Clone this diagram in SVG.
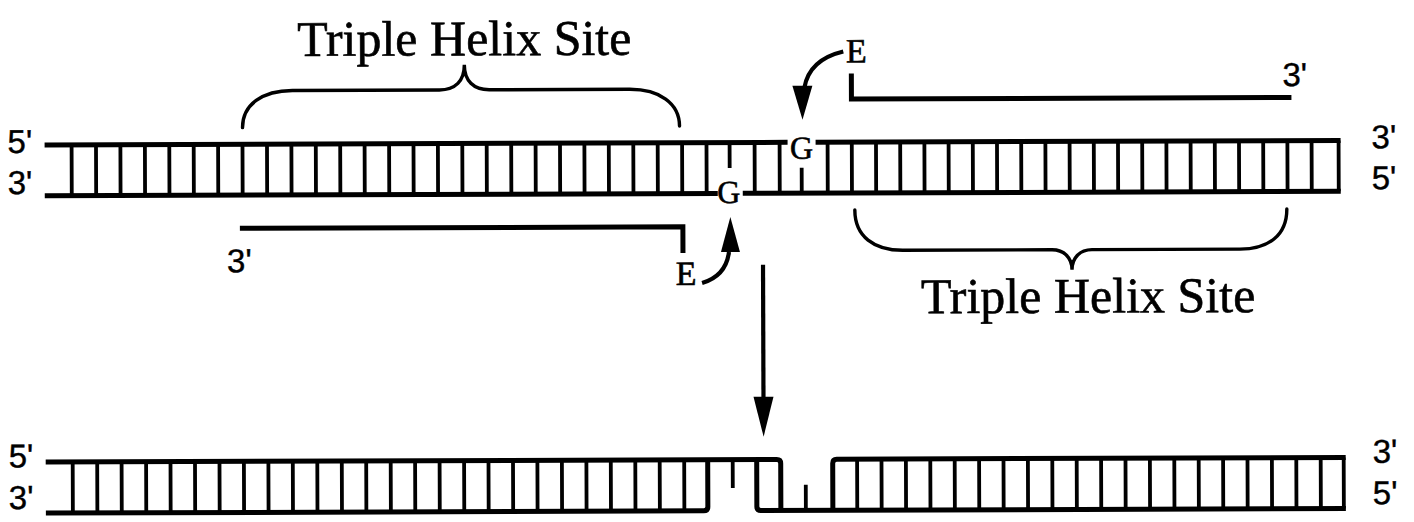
<svg xmlns="http://www.w3.org/2000/svg" width="1414" height="522" viewBox="0 0 1414 522">
  <defs>
    <style>
      .strand { fill: none; stroke: #000; stroke-width: 5; stroke-linecap: butt; stroke-linejoin: round; }
      .rung { fill: none; stroke: #000; stroke-width: 3.8; }
      .oligo { fill: none; stroke: #000; stroke-width: 5; stroke-linejoin: miter; }
      .brace { fill: none; stroke: #000; stroke-width: 3.4; stroke-linecap: round; }
      .arrow-line { fill: none; stroke: #000; stroke-width: 4.2; }
      .head { fill: #000; stroke: none; }
      .serif { font-family: "Liberation Serif", "Times New Roman", serif; fill: #000; stroke: #000; stroke-width: 0.6; }
      .sans { font-family: "Liberation Sans", Arial, sans-serif; fill: #000; stroke: #000; stroke-width: 0.4; font-size: 33px; }
      .title { font-size: 50px; }
      .base { font-size: 32px; }
      .enz { font-size: 34px; }
    </style>
  </defs>
  <rect width="1414" height="522" fill="#fff"/>

  <g transform="rotate(-0.2 707 261)">
    <!-- upper duplex with the two guanine targets -->
    <g id="duplex-upper">
      <path class="strand" d="M45 142.6H788M816 142.6H1341"/>
      <path class="strand" d="M45 193.5H718M743 193.5H1341"/>
      <path class="rung" d="M72 142.6V193.5M96.4 142.6V193.5M120.8 142.6V193.5M145.3 142.6V193.5M169.7 142.6V193.5M194.1 142.6V193.5M218.5 142.6V193.5M242.9 142.6V193.5M267.4 142.6V193.5M291.8 142.6V193.5M316.2 142.6V193.5M340.6 142.6V193.5M365 142.6V193.5M389.5 142.6V193.5M413.9 142.6V193.5M438.3 142.6V193.5M462.7 142.6V193.5M487.1 142.6V193.5M511.6 142.6V193.5M536 142.6V193.5M560.4 142.6V193.5M584.8 142.6V193.5M609.2 142.6V193.5M633.7 142.6V193.5M658.1 142.6V193.5M682.5 142.6V193.5M706.9 142.6V193.5M755 142.6V193.5M780 142.6V193.5"/>
      <path class="rung" d="M828 142.6V193.5M852.2 142.6V193.5M876.4 142.6V193.5M900.6 142.6V193.5M924.8 142.6V193.5M949 142.6V193.5M973.2 142.6V193.5M997.4 142.6V193.5M1021.6 142.6V193.5M1045.8 142.6V193.5M1070 142.6V193.5M1094.2 142.6V193.5M1118.4 142.6V193.5M1142.6 142.6V193.5M1166.8 142.6V193.5M1191 142.6V193.5M1215.2 142.6V193.5M1239.4 142.6V193.5M1263.6 142.6V193.5M1287.8 142.6V193.5M1312 142.6V193.5M1339 142.6V193.5"/>
      <path class="rung" d="M730 142.6V168M802 168V193.5"/>
      <text class="serif base" x="802" y="159" text-anchor="middle">G</text>
      <text class="serif base" x="729" y="203" text-anchor="middle">G</text>
      <text class="sans" x="8" y="150.5">5'</text>
      <text class="sans" x="8" y="191.5">3'</text>
      <text class="sans" x="1372" y="150.5">3'</text>
      <text class="sans" x="1372" y="191.5">5'</text>
    </g>

    <!-- third strand bound on the left site -->
    <g id="oligo-left">
      <path class="oligo" d="M240 226.7H683V253"/>
      <text class="sans" x="227" y="270.5">3'</text>
      <text class="serif enz" x="686" y="285" text-anchor="middle">E</text>
    </g>

    <!-- third strand bound on the right site -->
    <g id="oligo-right">
      <path class="oligo" d="M852 74V99.5H1292"/>
      <text class="sans" x="1283" y="88">3'</text>
      <text class="serif enz" x="857" y="63" text-anchor="middle">E</text>
    </g>

    <!-- site brackets -->
    <g id="site-upper">
      <path class="brace" d="M243 126C243 103 263 89 293 89H440C456 89 465 80 465 64C465 80 474 89 490 89H630C660 89 680 103 680 126"/>
      <text class="serif title" x="465" y="54.5" text-anchor="middle">Triple Helix Site</text>
    </g>
    <g id="site-lower">
      <path class="brace" d="M855 210.5C855 237 874 251 903 251H1052C1064 251 1072 259 1072 271C1072 259 1080 251 1092 251H1240C1269 251 1287 237 1287 211"/>
      <text class="serif title" x="1088" y="314" text-anchor="middle">Triple Helix Site</text>
    </g>

    <!-- cleaved duplex -->
    <g id="duplex-lower">
      <path class="strand" d="M45 459.7H776Q780 459.7 780 463.7V510.8"/>
      <path class="strand" d="M45 510.8H703Q707 510.8 707 506.8V459.7"/>
      <path class="strand" d="M756 459.7V506.8Q756 510.8 760 510.8H1345"/>
      <path class="strand" d="M832 510.8V463.7Q832 459.7 836 459.7H1345"/>
      <path class="rung" d="M72 459.7V510.8M96.5 459.7V510.8M120.9 459.7V510.8M145.4 459.7V510.8M169.8 459.7V510.8M194.3 459.7V510.8M218.8 459.7V510.8M243.2 459.7V510.8M267.7 459.7V510.8M292.1 459.7V510.8M316.6 459.7V510.8M341.1 459.7V510.8M365.5 459.7V510.8M390 459.7V510.8M414.4 459.7V510.8M438.9 459.7V510.8M463.4 459.7V510.8M487.8 459.7V510.8M512.3 459.7V510.8M536.7 459.7V510.8M561.2 459.7V510.8M585.7 459.7V510.8M610.1 459.7V510.8M634.6 459.7V510.8M659 459.7V510.8M683.5 459.7V510.8"/>
      <path class="rung" d="M856.4 459.7V510.8M880.8 459.7V510.8M905.2 459.7V510.8M929.6 459.7V510.8M954 459.7V510.8M978.4 459.7V510.8M1002.8 459.7V510.8M1027.2 459.7V510.8M1051.6 459.7V510.8M1076 459.7V510.8M1100.4 459.7V510.8M1124.8 459.7V510.8M1149.2 459.7V510.8M1173.6 459.7V510.8M1198 459.7V510.8M1222.4 459.7V510.8M1246.8 459.7V510.8M1271.2 459.7V510.8M1295.6 459.7V510.8M1320 459.7V510.8M1343 459.7V510.8"/>
      <path class="rung" d="M732 459.7V488M805 510.8V485"/>
      <text class="sans" x="8" y="465">5'</text>
      <text class="sans" x="8" y="506.5">3'</text>
      <text class="sans" x="1372" y="465">3'</text>
      <text class="sans" x="1372" y="506.5">5'</text>
    </g>

    <!-- connectors: enzyme attack arrows and reaction arrow -->
    <g id="connectors">
      <path class="arrow-line" d="M844 52Q810 60 805 88"/>
      <polygon class="head" points="793,86 813,86 803,120"/>
      <path class="arrow-line" d="M702 283Q726 276 729 252"/>
      <polygon class="head" points="721,252 740,252 730.5,217"/>
      <path class="arrow-line" d="M763 265V400"/>
      <polygon class="head" points="753,397 773,397 763,437"/>
    </g>
  </g>
</svg>
